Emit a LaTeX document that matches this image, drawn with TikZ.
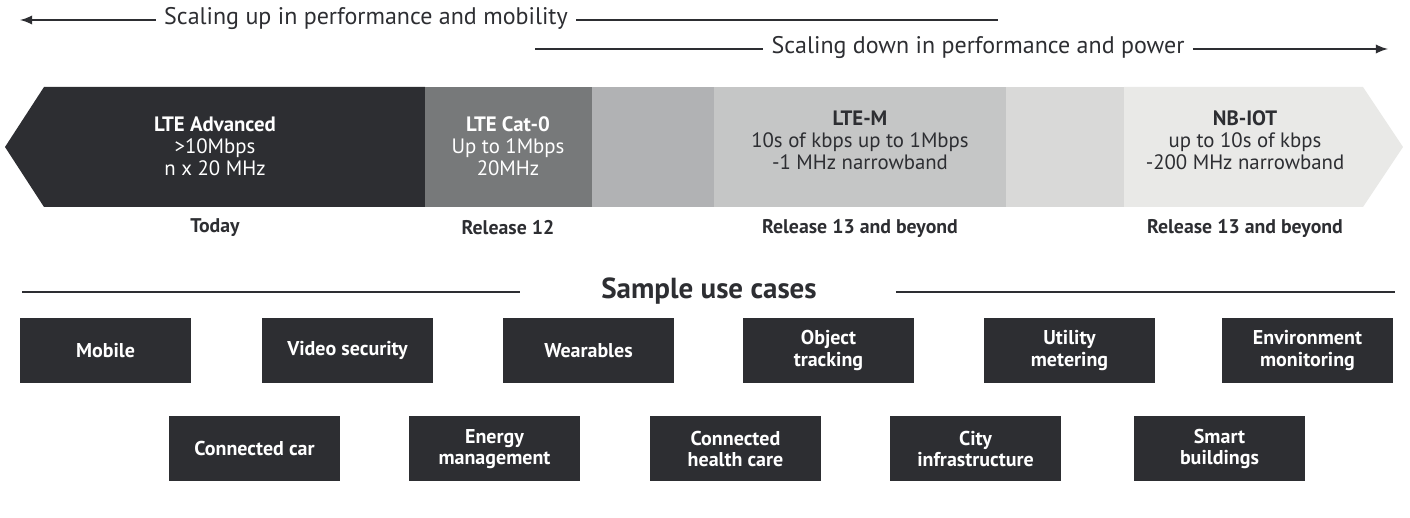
\documentclass[tikz,border=0pt]{standalone}
\usepackage{fontspec}
\setmainfont{PT Sans}
\usetikzlibrary{positioning}
\definecolor{inkdark}{HTML}{2D2E32}
\definecolor{bandcat}{HTML}{77797A}
\definecolor{bandgap}{HTML}{B1B2B4}
\definecolor{bandltem}{HTML}{C5C6C6}
\definecolor{bandgapb}{HTML}{D9D9D8}
\definecolor{bandnb}{HTML}{E9E9E7}
\tikzset{
    scaleline/.style={draw=inkdark, line width=1.1pt},  % long rules and arrows
    scaletext/.style={text=inkdark, font=\fontsize{12}{14}\selectfont, inner xsep=4pt},
    bandtext/.style={align=center, font=\fontsize{10.4}{11}\selectfont},
    release/.style={text=inkdark, font=\bfseries\fontsize{9.9}{12}\selectfont},
    usecase/.style={fill=inkdark, text=white, align=center,
        font=\bfseries\fontsize{10}{10.7}\selectfont,
        minimum width=85.5pt, minimum height=32.5pt, inner sep=0pt},
}

\begin{document}
\begin{tikzpicture}[x=0.5pt, y=-0.5pt]
        \useasboundingbox (0, 0) rectangle (1410, 518);
        \begin{scope}
            % two scaling directions
            \node[scaletext] (scaleup) at (366, 19) {Scaling up in performance and mobility};
            \coordinate (upleft) at (20, 20);
            \coordinate (upright) at (998, 20);
            \draw[scaleline, -latex] (scaleup.west |- upleft) -- (upleft);
            \draw[scaleline] (scaleup.east |- upright) -- (upright);
            \node[scaletext] (scaledown) at (978, 48) {Scaling down in performance and power};
            \coordinate (downleft) at (535, 49);
            \coordinate (downright) at (1388, 49);
            \draw[scaleline] (downleft) -- (scaledown.west |- downleft);
            \draw[scaleline, -latex] (scaledown.east |- downright) -- (downright);
        \end{scope}
        \begin{scope}
            % technology band
            \fill[inkdark] (5, 147) -- (44, 87) -- (425, 87) -- (425, 207) -- (44, 207) -- cycle;
            \fill[bandcat] (425, 87) rectangle (592, 207);
            \fill[bandgap] (592, 87) rectangle (714, 207);
            \fill[bandltem] (714, 87) rectangle (1006, 207);
            \fill[bandgapb] (1006, 87) rectangle (1124, 207);
            \fill[bandnb] (1124, 87) -- (1363, 87) -- (1403, 147) -- (1363, 207) -- (1124, 207) -- cycle;
            \node[bandtext, text=white] (lteadv) at (215, 146) {\textbf{LTE Advanced}\\>10Mbps\\n x 20 MHz};
            \node[bandtext, text=white] (ltecat) at (508, 146) {\textbf{LTE Cat-0}\\Up to 1Mbps\\20MHz};
            \node[bandtext, text=inkdark] (ltem) at (860, 140) {\textbf{LTE-M}\\10s of kbps up to 1Mbps\\-1 MHz narrowband};
            \node[bandtext, text=inkdark] (nbiot) at (1245, 140) {\textbf{NB-IOT}\\up to 10s of kbps\\-200 MHz narrowband};
            \node[release] (today) at (215, 228) {Today};
            \node[release] (rel12) at (508, 228) {Release 12};
            \node[release] (rel13a) at (860, 228) {Release 13 and beyond};
            \node[release] (rel13b) at (1245, 228) {Release 13 and beyond};
        \end{scope}
        \begin{scope}
            % sample use cases
            \node[text=inkdark, font=\bfseries\fontsize{14.5}{17}\selectfont] (sample) at (709, 291) {Sample use cases};
            \coordinate (sampleleft) at (22, 292);
            \coordinate (sampleright) at (1395, 292);
            \draw[scaleline] (sampleleft) -- ([xshift=-37pt]sample.west |- sampleleft);
            \draw[scaleline] ([xshift=36pt]sample.east |- sampleright) -- (sampleright);
            \node[usecase] (mobile) at (105.5, 350.5) {Mobile};
            \node[usecase] (video) at (347.5, 350.5) {Video security};
            \node[usecase] (wear) at (588.5, 350.5) {Wearables};
            \node[usecase] (object) at (828.5, 350.5) {Object\\tracking};
            \node[usecase] (utility) at (1069.5, 350.5) {Utility\\metering};
            \node[usecase] (environ) at (1307.5, 350.5) {Environment\\monitoring};
            \node[usecase] (car) at (254.5, 449) {Connected car};
            \node[usecase] (energy) at (494.5, 449) {Energy\\management};
            \node[usecase] (health) at (735.5, 449) {Connected\\health care};
            \node[usecase] (city) at (975.5, 449) {City\\infrastructure};
            \node[usecase] (smart) at (1219.5, 449) {Smart\\buildings};
        \end{scope}
    \end{tikzpicture}
\end{document}
